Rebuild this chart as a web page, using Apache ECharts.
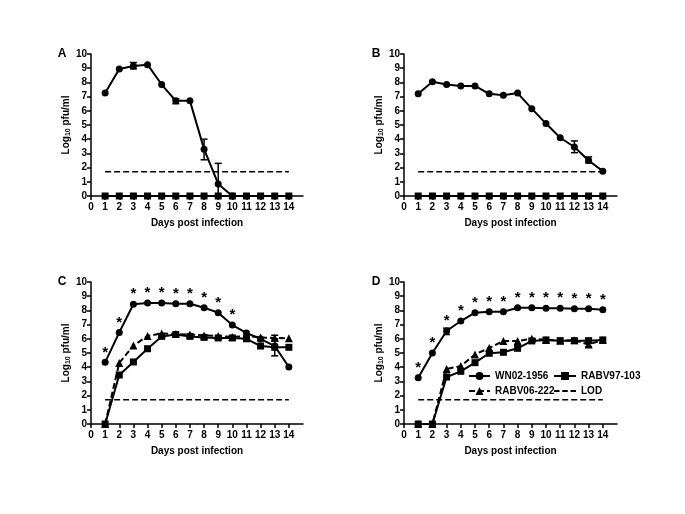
<!DOCTYPE html>
<html>
<head>
<meta charset="utf-8">
<script src="https://cdn.jsdelivr.net/npm/echarts@6/dist/echarts.min.js"></script>
<style>
  html, body { margin: 0; padding: 0; background: #fff; }
  #main { width: 685px; height: 514px; }
</style>
</head>
<body>
<div id="main"></div>
<script>
// days post infection
var days = [1, 2, 3, 4, 5, 6, 7, 8, 9, 10, 11, 12, 13, 14];
var tickDays = [0, 1, 2, 3, 4, 5, 6, 7, 8, 9, 10, 11, 12, 13, 14];
var LOD = 1.7;

// panel A
var wnA = [7.25, 8.95, 9.15, 9.25, 7.85, 6.7, 6.7, 3.3, 0.85, 0];
var zeroA = [0, 0, 0, 0, 0, 0, 0, 0, 0, 0, 0, 0, 0, 0];
var errA = [[3, 8.95, 9.4], [6, 6.5, 6.85], [8, 2.55, 4.0], [9, 0, 2.3]];

// panel B
var wnB = [7.2, 8.05, 7.85, 7.75, 7.75, 7.2, 7.1, 7.25, 6.15, 5.1, 4.1, 3.45, 2.5, 1.75];
var zeroB = [0, 0, 0, 0, 0, 0, 0, 0, 0, 0, 0, 0, 0, 0];
var errB = [[12, 3.05, 3.88], [13, 2.33, 2.75]];

// panel C
var wnC = [4.34, 6.45, 8.43, 8.52, 8.52, 8.47, 8.47, 8.19, 7.84, 6.97, 6.41, 5.99, 5.49, 4.01];
var r97C = [0, 3.45, 4.37, 5.3, 6.17, 6.3, 6.17, 6.1, 6.06, 6.06, 6.0, 5.49, 5.4, 5.4];
var r06C = [0, 4.3, 5.52, 6.2, 6.38, 6.34, 6.3, 6.24, 6.2, 6.13, 6.2, 6.1, 6.06, 6.03];
var errC = [[13, 4.8, 6.0], [13, 5.9, 6.25]];
var starsC = [1, 2, 3, 4, 5, 6, 7, 8, 9, 10];

// panel D
var wnD = [3.26, 5.0, 6.55, 7.25, 7.84, 7.91, 7.91, 8.19, 8.19, 8.15, 8.15, 8.12, 8.12, 8.05];
var r97D = [0, 0, 3.31, 3.71, 4.32, 4.98, 5.05, 5.33, 5.85, 5.92, 5.87, 5.87, 5.87, 5.92];
var r06D = [0, 0, 3.87, 4.08, 4.9, 5.35, 5.85, 5.85, 6.0, 5.92, 5.87, 5.9, 5.6, 5.92];
var errD = [[3, 6.3, 6.75], [13, 5.45, 5.75], [13, 5.7, 6.0]];
var starsD = [1, 2, 3, 4, 5, 6, 7, 8, 9, 10, 11, 12, 13, 14];

var FONT = '"Liberation Sans", Arial, sans-serif';

function pairs(vals, stars) {
  return vals.map(function (v, i) {
    var d = days[i];
    if (stars && stars.indexOf(d) >= 0) {
      return { value: [d, v], label: { show: true } };
    }
    return [d, v];
  });
}

function lineSeries(name, idx, vals, symbol, size, dashed, stars) {
  return {
    name: name,
    type: 'line',
    xAxisIndex: idx,
    yAxisIndex: idx,
    data: pairs(vals, stars),
    symbol: symbol,
    symbolSize: size,
    showSymbol: true,
    animation: false,
    itemStyle: { color: '#000' },
    lineStyle: { color: '#000', width: 2, type: dashed ? [6, 3] : 'solid' },
    label: {
      show: false,
      position: 'top',
      distance: -1,
      formatter: '*',
      color: '#000',
      fontFamily: FONT,
      fontSize: 15,
      fontWeight: 'bold'
    },
    z: 3
  };
}

function lodSeries(idx) {
  return {
    name: 'LOD',
    type: 'line',
    xAxisIndex: idx,
    yAxisIndex: idx,
    data: [[1, LOD], [14, LOD]],
    symbol: 'none',
    animation: false,
    itemStyle: { color: '#000' },
    lineStyle: { color: '#000', width: 1.5, type: [6, 3] },
    z: 2
  };
}

function errSeries(idx, err) {
  return {
    type: 'custom',
    xAxisIndex: idx,
    yAxisIndex: idx,
    data: err,
    animation: false,
    silent: true,
    renderItem: function (params, api) {
      var x = api.value(0);
      var lo = api.coord([x, api.value(1)]);
      var hi = api.coord([x, api.value(2)]);
      var w = 3.5;
      var st = { stroke: '#000', lineWidth: 1.5, fill: null };
      return {
        type: 'group',
        children: [
          { type: 'line', shape: { x1: lo[0], y1: lo[1], x2: hi[0], y2: hi[1] }, style: st },
          { type: 'line', shape: { x1: lo[0] - w, y1: lo[1], x2: lo[0] + w, y2: lo[1] }, style: st },
          { type: 'line', shape: { x1: hi[0] - w, y1: hi[1], x2: hi[0] + w, y2: hi[1] }, style: st }
        ]
      };
    },
    z: 4
  };
}

var grids = [
  { left: 91, top: 54, width: 212, height: 142 },
  { left: 404, top: 54, width: 213, height: 142 },
  { left: 91, top: 282, width: 212, height: 142 },
  { left: 404, top: 282, width: 213, height: 142 }
];

var axisLineBlack = { show: true, onZero: false, lineStyle: { color: '#000', width: 1.5 } };
var tickStyle = { show: true, inside: false, length: 4, lineStyle: { color: '#000', width: 1.5 } };
var labelStyle = { color: '#000', fontFamily: FONT, fontSize: 10, fontWeight: 'bold' };

var xAxes = grids.map(function (g, i) {
  return {
    gridIndex: i,
    type: 'value',
    min: 0,
    max: 15,
    interval: 1,
    name: 'Days post infection',
    nameLocation: 'middle',
    nameGap: 22,
    nameTextStyle: { color: '#000', fontFamily: FONT, fontSize: 10, fontWeight: 'bold' },
    axisLine: axisLineBlack,
    axisTick: Object.assign({ customValues: tickDays }, tickStyle),
    axisLabel: Object.assign({ customValues: tickDays, margin: 6 }, labelStyle),
    splitLine: { show: false }
  };
});

var yAxes = grids.map(function (g, i) {
  return {
    gridIndex: i,
    type: 'value',
    min: 0,
    max: 10,
    interval: 1,
    name: 'Log{sub|10} pfu/ml',
    nameLocation: 'middle',
    nameGap: 19,
    nameRotate: 90,
    nameTextStyle: {
      color: '#000', fontFamily: FONT, fontSize: 10, fontWeight: 'bold',
      rich: { sub: { fontFamily: FONT, fontSize: 7, fontWeight: 'bold', verticalAlign: 'bottom', padding: [4, 0, 0, 0] } }
    },
    axisLine: axisLineBlack,
    axisTick: tickStyle,
    axisLabel: Object.assign({ margin: 4 }, labelStyle),
    splitLine: { show: false }
  };
});

var series = [
  // A
  lodSeries(0),
  lineSeries('RABV97-103', 0, zeroA, 'rect', 7, false),
  lineSeries('WN02-1956', 0, wnA, 'circle', 7, false),
  errSeries(0, errA),
  // B
  lodSeries(1),
  lineSeries('RABV97-103', 1, zeroB, 'rect', 7, false),
  lineSeries('WN02-1956', 1, wnB, 'circle', 7, false),
  errSeries(1, errB),
  // C
  lodSeries(2),
  lineSeries('RABV06-222', 2, r06C, 'triangle', 8, true),
  lineSeries('RABV97-103', 2, r97C, 'rect', 7, false),
  lineSeries('WN02-1956', 2, wnC, 'circle', 7, false, starsC),
  errSeries(2, errC),
  // D
  lodSeries(3),
  lineSeries('RABV06-222', 3, r06D, 'triangle', 8, true),
  lineSeries('RABV97-103', 3, r97D, 'rect', 7, false),
  lineSeries('WN02-1956', 3, wnD, 'circle', 7, false, starsD),
  errSeries(3, errD)
];

var legendText = { color: '#000', fontFamily: FONT, fontSize: 10, fontWeight: 'bold' };
// dashed icon for the LOD entry
var lodIcon = 'path://M0,4h6v2h-6z M9,4h6v2h-6z M18,4h6v2h-6z M0,0h0.01v0.01h-0.01z M0,10h0.01v0.01h-0.01z';

var letters = [['A', 62, 54], ['B', 376, 54], ['C', 62, 282], ['D', 376, 282]];

var myChart = echarts.init(document.getElementById('main'), null, { renderer: 'canvas' });
var option = {
  backgroundColor: '#fff',
  animation: false,
  grid: grids,
  xAxis: xAxes,
  yAxis: yAxes,
  legend: [
    {
      orient: 'vertical', left: 468, top: 371, itemGap: 5, padding: 0,
      itemWidth: 21, itemHeight: 10, textStyle: legendText,
      data: ['WN02-1956', 'RABV06-222'], selectedMode: false
    },
    {
      orient: 'vertical', left: 553, top: 371, itemGap: 5, padding: 0,
      itemWidth: 22, itemHeight: 10, textStyle: legendText,
      data: ['RABV97-103', { name: 'LOD', icon: lodIcon, itemStyle: { color: '#000' } }],
      selectedMode: false
    }
  ],
  graphic: letters.map(function (l) {
    return {
      type: 'text', x: l[1], y: l[2],
      style: { text: l[0], fill: '#000', font: 'bold 12px ' + FONT, textAlign: 'center', textVerticalAlign: 'middle' }
    };
  }),
  series: series
};
myChart.setOption(option);
</script>
</body>
</html>
